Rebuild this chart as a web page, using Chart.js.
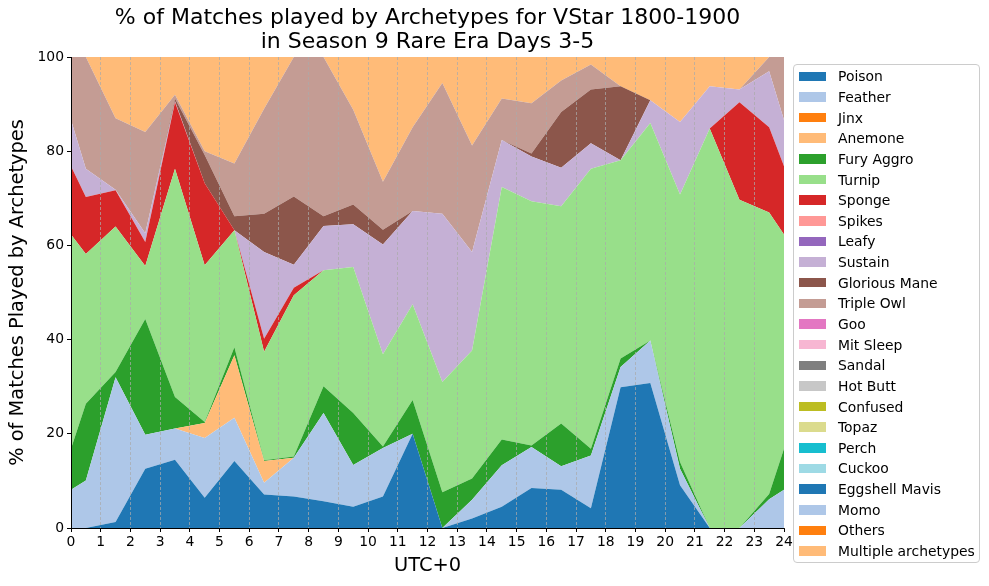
<!DOCTYPE html>
<html>
<head>
<meta charset="utf-8">
<script src="https://cdn.jsdelivr.net/npm/chart.js"></script>
<style>
  html, body { margin: 0; padding: 0; background: #fff; }
  #wrap { position: relative; width: 989px; height: 586px; }
  #legend {
    position: absolute; left: 793px; top: 64px; width: 187px; height: 499px;
    box-sizing: border-box; border: 1px solid #ccc; border-radius: 4px;
    background: rgba(255,255,255,0.8); padding-top: 1px;
    font-family: 'DejaVu Sans', sans-serif; font-size: 13.9px; color: #000;
  }
  .item { display: flex; align-items: center; height: 20.65px; white-space: nowrap; }
  .patch { width: 27px; height: 9.5px; margin-left: 5px; margin-right: 12px; flex: none; }
</style>
</head>
<body>
<div id="wrap">
  <canvas id="chart" width="989" height="586"></canvas>
  <div id="legend"></div>
</div>
<script>
// hour of day (UTC+0), 0 and 24 are the wrap-around points
const hours = [0, 0.5, 1.5, 2.5, 3.5, 4.5, 5.5, 6.5, 7.5, 8.5, 9.5, 10.5, 11.5, 12.5, 13.5, 14.5, 15.5, 16.5, 17.5, 18.5, 19.5, 20.5, 21.5, 22.5, 23.5, 24];

const archetypes = ['Poison', 'Feather', 'Jinx', 'Anemone', 'Fury Aggro', 'Turnip', 'Sponge', 'Spikes', 'Leafy', 'Sustain',
  'Glorious Mane', 'Triple Owl', 'Goo', 'Mit Sleep', 'Sandal', 'Hot Butt', 'Confused', 'Topaz', 'Perch', 'Cuckoo',
  'Eggshell Mavis', 'Momo', 'Others', 'Multiple archetypes'];

const colors = ['#1f77b4', '#aec7e8', '#ff7f0e', '#ffbb78', '#2ca02c', '#98df8a', '#d62728', '#ff9896', '#9467bd', '#c5b0d5',
  '#8c564b', '#c49c94', '#e377c2', '#f7b6d2', '#7f7f7f', '#c7c7c7', '#bcbd22', '#dbdb8d', '#17becf', '#9edae5',
  '#1f77b4', '#aec7e8', '#ff7f0e', '#ffbb78'];

// % of matches per archetype
const poison       = [0, 0, 1.3, 12.6, 14.5, 6.4, 14.2, 7.1, 6.7, 5.7, 4.5, 6.7, 20, 0, 2, 4.5, 8.5, 8.1, 4.2, 29.9, 30.8, 9.1, 0, 0, 0, 0];
const feather      = [8.1, 10.1, 30.7, 7.2, 6.6, 12.7, 9.2, 2.5, 8.2, 18.7, 8.9, 10.3, 0, 0, 4, 8.8, 8.7, 5, 11.2, 4.3, 9, 3.5, 0, 0, 6.1, 8.1];
const anemone      = [0, 0, 0, 0, 0, 3.2, 13.3, 4.6, 0, 0, 0, 0, 0, 0, 0, 0, 0, 0, 0, 0, 0, 0, 0, 0, 0, 0];
const furyAggro    = [8.7, 16.3, 1.1, 24.6, 6.7, 0.2, 1.7, 0.2, 0.3, 5.7, 11, 0.3, 7.2, 7.6, 4.5, 5.5, 0.3, 9.1, 1.4, 1.8, 0, 1.4, 0, 0, 1.1, 8.7];
const turnip       = [45.5, 31.8, 30.9, 11.2, 48.5, 33.3, 24.8, 23, 34.2, 24.6, 31, 19.6, 20.3, 23.4, 27.2, 53.6, 51.9, 46.1, 59.5, 42.1, 46.2, 56.8, 84.8, 69.7, 59.8, 45.5];
const sponge       = [14.5, 12.1, 7.7, 5.1, 14.1, 17.4, 0, 2.8, 1.6, 0, 0, 0, 0, 0, 0, 0, 0, 0, 0, 0, 0, 0, 0, 20.7, 18.1, 14.5];
const sustain      = [9.8, 6, 0.1, 1.9, 0.2, 0, 0, 18.4, 4.9, 9.4, 9.1, 23.3, 19.8, 35.7, 20.9, 10, 9.5, 8.2, 5.4, 0, 4.8, 15.4, 9, 2.7, 11.9, 9.8];
const gloriousMane = [0, 0, 0, 0, 0.6, 6, 3, 8.1, 14.5, 2.1, 4.2, 3.1, 0, 0, 0, 0, 0.6, 11.8, 11.4, 15.7, 0, 0, 0, 0, 0, 0];
const tripleOwl    = [13.4, 23.7, 15.2, 21.5, 0.8, 0.8, 11.2, 22.3, 29.6, 33.8, 20.1, 10.2, 17.8, 27.8, 22.6, 8.8, 10.7, 6.7, 5.3, 0, 0, 0, 0, 0, 3, 13.4];
const multiple     = [0, 0, 13, 15.9, 8, 20, 22.6, 11, 0, 0, 11.2, 26.5, 14.9, 5.5, 18.8, 8.8, 9.8, 5, 1.6, 6.2, 9.2, 13.8, 6.2, 6.9, 0, 0];
const absent       = [0, 0, 0, 0, 0, 0, 0, 0, 0, 0, 0, 0, 0, 0, 0, 0, 0, 0, 0, 0, 0, 0, 0, 0, 0, 0];

const xTicks = [0, 24, 1];      // min, max, step
const yTicks = [0, 100, 20];

const seriesValues = [poison, feather, absent, anemone, furyAggro, turnip, sponge, absent, absent, sustain,
  gloriousMane, tripleOwl, absent, absent, absent, absent, absent, absent, absent, absent,
  absent, absent, absent, multiple];

const FONT = "'DejaVu Sans', sans-serif";

function buildLegend() {
  const box = document.getElementById('legend');
  box.innerHTML = archetypes.map((name, i) =>
    `<div class="item"><span class="patch" style="background:${colors[i]}"></span><span>${name}</span></div>`
  ).join('');
}

function buildChart() {
  const datasets = archetypes.map((name, i) => ({
    label: name,
    data: hours.map((h, j) => ({ x: h, y: seriesValues[i][j] })),
    backgroundColor: colors[i],
    borderColor: colors[i],
    borderWidth: 0,
    pointRadius: 0,
    pointHoverRadius: 0,
    tension: 0,
    fill: i === 0 ? 'origin' : '-1'
  }));

  new Chart(document.getElementById('chart'), {
    type: 'line',
    data: { datasets },
    options: {
      responsive: false,
      animation: false,
      layout: { padding: { left: 0, right: 205, top: 0, bottom: 0 } },
      plugins: {
        legend: { display: false },
        tooltip: { enabled: false },
        title: {
          display: true,
          fullSize: false,
          text: ['% of Matches played by Archetypes for VStar 1800-1900', 'in Season 9 Rare Era Days 3-5'],
          color: '#000',
          font: { family: FONT, size: 22, weight: 'normal', lineHeight: '24px' },
          padding: { top: 6, bottom: 3 }
        }
      },
      scales: {
        x: {
          type: 'linear',
          min: xTicks[0], max: xTicks[1],
          ticks: { stepSize: xTicks[2], autoSkip: false, maxRotation: 0, color: '#000', padding: 2, font: { family: FONT, size: 13.9 } },
          grid: {
            z: 1,
            color: c => (c.tick && (c.tick.value === 0 || c.tick.value === 24)) ? 'rgba(0,0,0,0)' : 'rgba(170,170,170,0.9)',
            lineWidth: 0.8,
            tickColor: '#000',
            tickWidth: 1,
            tickLength: 4,
            tickBorderDash: []
          },
          border: { z: 2, display: true, color: '#000', width: 1, dash: [3, 2] },
          title: { display: true, text: 'UTC+0', color: '#000', font: { family: FONT, size: 19.4 }, padding: { top: 0, bottom: 8.4 } },
          afterFit: s => { s.height = 58; }
        },
        y: {
          stacked: true,
          min: yTicks[0], max: yTicks[1],
          ticks: { stepSize: yTicks[2], color: '#000', padding: 3, font: { family: FONT, size: 13.9 } },
          grid: { drawOnChartArea: false, drawTicks: true, tickLength: 4, tickColor: '#000', tickWidth: 1 },
          border: { z: 2, display: true, color: '#000', width: 1 },
          title: { display: true, text: '% of Matches Played by Archetypes', color: '#000', font: { family: FONT, size: 19.4 }, padding: { top: 6.4, bottom: 0 } },
          afterFit: s => { s.width = 71; }
        }
      }
    }
  });
}

buildLegend();
buildChart();
</script>
</body>
</html>
